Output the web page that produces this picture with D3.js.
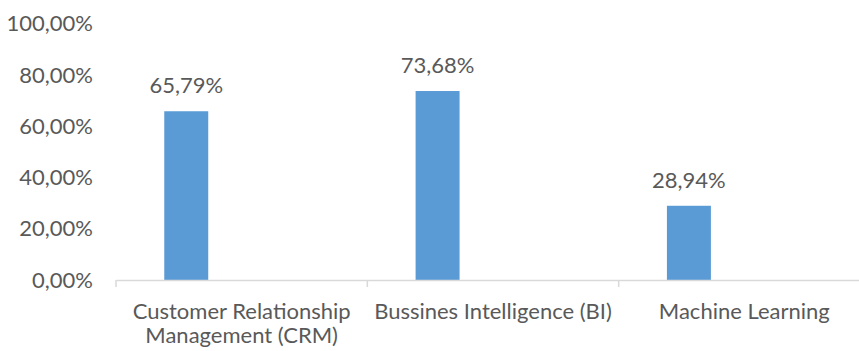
<!DOCTYPE html>
<html>
<head>
<meta charset="utf-8">
<script src="https://cdn.jsdelivr.net/npm/d3@7"></script>
<style>
  html, body { margin: 0; padding: 0; background: #fff; }
  svg text { font-family: Lato, "Open Sans", sans-serif; fill: #595959; }
</style>
</head>
<body>
<div id="chart"></div>
<script>
// data
const categories = ["Customer Relationship Management (CRM)", "Bussines Intelligence (BI)", "Machine Learning"];
const categoryLines = [["Customer Relationship", "Management (CRM)"], ["Bussines Intelligence (BI)"], ["Machine Learning"]];
const values = [65.79, 73.68, 28.94];
const yTicks = [0, 20, 40, 60, 80, 100];

const width = 859, height = 351;
const margin = { top: 23.5, right: -11, bottom: 71, left: 116 };

const svg = d3.select("#chart").append("svg")
    .attr("width", width)
    .attr("height", height);

const x = d3.scaleBand()
    .domain(categories)
    .range([margin.left, width - margin.right])
    .paddingInner(0)
    .paddingOuter(0);

const y = d3.scaleLinear()
    .domain([0, 100])
    .range([height - margin.bottom, margin.top]);

const pct = v => d3.format(".2f")(v).replace(".", ",") + "%";

// bar sits left inside its band (clustered-column layout)
const barOffset = 0.192, barWidth = 0.175;

// y labels, no grid lines
svg.append("g")
  .selectAll("text")
  .data(yTicks)
  .join("text")
    .attr("x", 93)
    .attr("y", d => y(d))
    .attr("dy", "0.35em")
    .attr("text-anchor", "end")
    .style("font-size", "22px")
    .text(pct);

// bars
svg.append("g")
  .selectAll("rect")
  .data(values)
  .join("rect")
    .attr("x", (d, i) => x(categories[i]) + x.bandwidth() * barOffset)
    .attr("y", d => y(d))
    .attr("width", x.bandwidth() * barWidth)
    .attr("height", d => y(0) - y(d))
    .attr("fill", "#5b9bd5");

// value labels
svg.append("g")
  .selectAll("text")
  .data(values)
  .join("text")
    .attr("x", (d, i) => x(categories[i]) + x.bandwidth() * (barOffset + barWidth / 2))
    .attr("y", d => y(d) - 18)
    .attr("text-anchor", "middle")
    .style("font-size", "22px")
    .text(pct);

// x axis
const xAxis = svg.append("g")
    .attr("transform", `translate(0,${y(0)})`)
    .call(d3.axisBottom(x).tickSize(0).tickFormat(""));
xAxis.select(".domain").attr("stroke", "#d9d9d9").attr("stroke-width", 1.5);
xAxis.selectAll(".tick").remove();

// category boundary ticks
const bounds = categories.map(c => x(c)).concat([x(categories[categories.length - 1]) + x.bandwidth()]);
svg.append("g")
  .selectAll("line")
  .data(bounds)
  .join("line")
    .attr("x1", d => d).attr("x2", d => d)
    .attr("y1", y(0)).attr("y2", y(0) + 7)
    .attr("stroke", "#d9d9d9")
    .attr("stroke-width", 1.5);

// category labels
const catG = svg.append("g")
  .selectAll("text")
  .data(categories)
  .join("text")
    .attr("x", d => x(d) + x.bandwidth() / 2)
    .attr("y", y(0) + 38.5)
    .attr("text-anchor", "middle")
    .style("font-size", "22px");

catG.selectAll("tspan")
  .data((d, i) => categoryLines[i])
  .join("tspan")
    .attr("x", function () { return this.parentNode.getAttribute("x"); })
    .attr("dy", (d, i) => i === 0 ? 0 : 24.5)
    .text(d => d);
</script>
</body>
</html>
